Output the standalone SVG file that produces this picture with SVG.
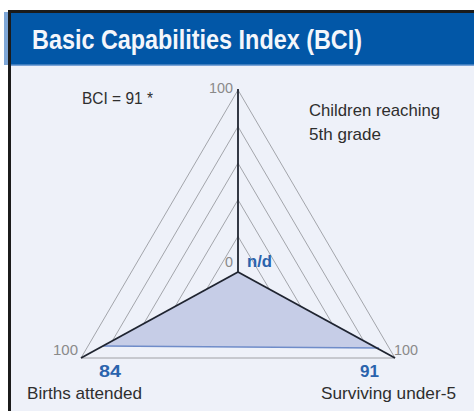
<svg xmlns="http://www.w3.org/2000/svg" width="474" height="411" viewBox="0 0 474 411">
<style>
.lbl{font-family:"Liberation Sans",Arial,sans-serif;fill:#2e2e2e;font-size:17px}
.num{font-family:"Liberation Sans",Arial,sans-serif;fill:#8a8a8a;font-size:14px}
.val{font-family:"Liberation Sans",Arial,sans-serif;fill:#2a63ad;font-size:17px;font-weight:bold}
.grid{fill:none;stroke:#9a9ca2;stroke-width:0.9}
.axis{stroke:#1f2430;stroke-width:1.8;fill:none}
</style>
<rect x="0" y="0" width="474" height="411" fill="#ffffff"/>
<g id="frame">
  <rect x="10" y="65" width="464" height="346" fill="#eef1f9"/>
  <rect x="4" y="12" width="6" height="53" fill="#7ea7d8"/>
  <rect x="10" y="12" width="464" height="53" fill="#0257a7"/>
  <rect x="10" y="64.5" width="464" height="1.5" fill="#7aa3d6"/>
  <rect x="9" y="10" width="465" height="3" fill="#1b1b1b"/>
  <rect x="8" y="10" width="3" height="401" fill="#1b1b1b"/>
  <text x="32" y="49" font-family="'Liberation Sans',Arial,sans-serif" font-size="28" font-weight="bold" fill="#f4f6fb" textLength="330" lengthAdjust="spacingAndGlyphs">Basic Capabilities Index (BCI)</text>
</g>
<g id="grid">
  <polygon class="grid" points="238,90 81,358 395,358"/>
  <polygon class="grid" points="238,126.6 112.4,340.8 363.6,340.8"/>
  <polygon class="grid" points="238,163.2 143.8,323.6 332.2,323.6"/>
  <polygon class="grid" points="238,199.8 175.2,306.4 300.8,306.4"/>
  <polygon class="grid" points="238,236.4 206.6,289.2 269.4,289.2"/>
  <line x1="81" y1="358" x2="395" y2="358" stroke="#c4c6cc" stroke-width="1"/>
</g>
<g id="data">
  <polygon points="238,272 103,346 379,348" fill="#c6cde7"/>
  <line x1="103" y1="346" x2="379" y2="348" stroke="#6f8cc9" stroke-width="1.5"/>
</g>
<g id="axes">
  <line class="axis" x1="238" y1="272" x2="238" y2="89"/>
  <line class="axis" x1="238" y1="272" x2="81" y2="358"/>
  <line class="axis" x1="238" y1="272" x2="395" y2="358"/>
</g>
<g id="labels">
  <text class="lbl" x="82" y="104" font-size="16" textLength="71" lengthAdjust="spacingAndGlyphs">BCI = 91 *</text>
  <text class="num" x="209" y="93" textLength="24" lengthAdjust="spacingAndGlyphs">100</text>
  <text class="num" x="225" y="267" textLength="8" lengthAdjust="spacingAndGlyphs">0</text>
  <text class="num" x="53" y="355" textLength="25" lengthAdjust="spacingAndGlyphs">100</text>
  <text class="num" x="394" y="355" textLength="24" lengthAdjust="spacingAndGlyphs">100</text>
  <text class="val" x="247" y="267" textLength="25" lengthAdjust="spacingAndGlyphs">n/d</text>
  <text class="val" x="99" y="377" textLength="22" lengthAdjust="spacingAndGlyphs">84</text>
  <text class="val" x="360" y="377" textLength="19" lengthAdjust="spacingAndGlyphs">91</text>
  <text class="lbl" x="309" y="116" textLength="131" lengthAdjust="spacingAndGlyphs">Children reaching</text>
  <text class="lbl" x="309" y="140" textLength="72" lengthAdjust="spacingAndGlyphs">5th grade</text>
  <text class="lbl" x="27" y="399" textLength="115" lengthAdjust="spacingAndGlyphs">Births attended</text>
  <text class="lbl" x="321" y="399" textLength="135" lengthAdjust="spacingAndGlyphs">Surviving under-5</text>
</g>
</svg>
